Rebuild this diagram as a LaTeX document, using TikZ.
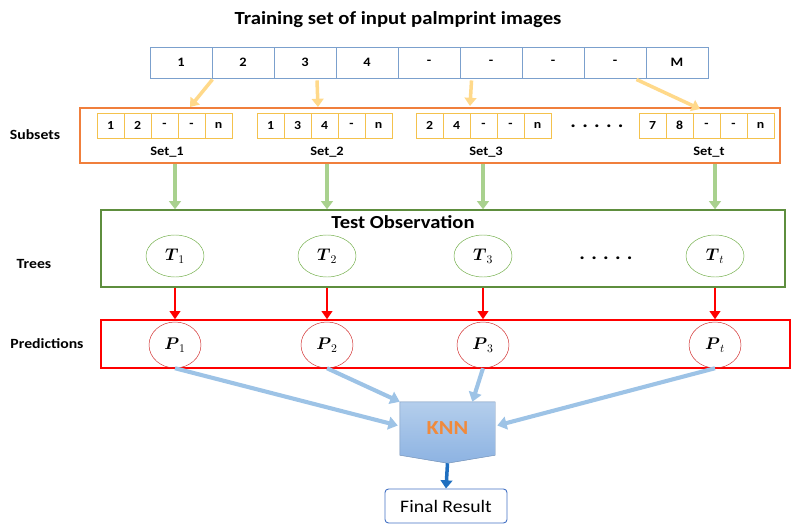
\documentclass[tikz,border=0pt]{standalone}
\usepackage{amsmath,amssymb}
\usepackage{fontspec}
\setmainfont{Carlito}[FakeStretch=1.12]
\usepackage{xcolor}
\usepackage{tikz}
\usetikzlibrary{shapes,arrows,positioning,calc,arrows.meta}

\definecolor{cellblue}{HTML}{7BA0CD}
\definecolor{cellyel}{HTML}{F4C24D}
\definecolor{boxorange}{HTML}{F07F3C}
\definecolor{boxgreen}{HTML}{5E8E3E}
\definecolor{treegreen}{HTML}{70AD47}
\definecolor{arrgreen}{HTML}{A9D18E}
\definecolor{arryel}{HTML}{FFD98A}
\definecolor{linblue}{HTML}{9DC3E6}
\definecolor{darkblue}{HTML}{1F6FC0}
\definecolor{frblue}{HTML}{4472C4}
\definecolor{knntop}{HTML}{B4CEEC}
\definecolor{knnbot}{HTML}{8DB3E2}
\definecolor{predred}{HTML}{D02828}
\definecolor{knnorange}{HTML}{F08A3C}

\tikzset{
    topcell/.style={draw=cellblue, thick, minimum width=1.86cm, minimum height=0.93cm, inner sep=0pt, font=\fontsize{11}{13}\selectfont\bfseries},
    subcell/.style={draw=cellyel, thick, minimum width=0.81cm, minimum height=0.75cm, inner sep=0pt, font=\fontsize{10.5}{12}\selectfont\bfseries},
    tree/.style={draw=treegreen, ellipse, minimum width=1.74cm, minimum height=1.26cm, inner sep=0pt, font=\fontsize{14}{16}\selectfont},
    pred/.style={draw=predred, ellipse, minimum width=1.56cm, minimum height=1.38cm, inner sep=0pt, font=\fontsize{14}{16}\selectfont},
    sidelabel/.style={font=\fontsize{12}{14}\selectfont\bfseries},
    dots/.style={font=\fontsize{16}{18}\selectfont\bfseries},
    yelarrow/.style={draw=arryel, line width=3pt, -{Triangle[length=7pt,width=10pt]}},
    grnarrow/.style={draw=arrgreen, line width=3pt, -{Triangle[length=7pt,width=10pt]}},
    redarrow/.style={draw=red, line width=2.5pt, -{Triangle[length=7pt,width=9pt]}},
    bluarrow/.style={draw=linblue, line width=3.5pt, -{Triangle[length=8pt,width=11pt]}}
}

\begin{document}
\begin{tikzpicture}[x=0.03cm, y=0.03cm]
    \useasboundingbox (0,0) rectangle (793,523);

    % Title
    \node (title) at (398,503) {\fontsize{15.8}{18}\selectfont\bfseries Training set of input palmprint images};

    % Input images
    \foreach \v [count=\i] in {1,2,3,4,-,-,-,-,M}
        \node[topcell] (top\i) at ({150+62*(\i-0.5)},460.5) {\v};

    % Subsets
    \node[draw=boxorange, very thick, minimum width=21cm, minimum height=1.65cm] (subsets) at (430,387.5) {};
    \node[sidelabel] (sublabel) at (35,388) {Subsets};
    \foreach \sx/\nm/\a/\b/\c/\d/\e [count=\k] in {97/1/1/2/-/-/n, 257/2/1/3/4/-/n, 416/3/2/4/-/-/n, 639/t/7/8/-/-/n} {
        \foreach \v [count=\j] in {\a,\b,\c,\d,\e}
            \node[subcell] (s\k-\j) at ({\sx+27*(\j-0.5)},397.5) {\v};
        \node[font=\fontsize{11}{13}\selectfont\bfseries] (set\k) at ({\sx+70},371) {Set\_\nm};
    }
    \node[dots] (subdots) at (597,397) {.\,\,.\,\,.\,\,.\,\,.};

    % Trees
    \node[draw=boxgreen, very thick, minimum width=20.52cm, minimum height=2.31cm] (trees) at (443,274.5) {};
    \node[font=\fontsize{15.7}{18}\selectfont\bfseries] (testobs) at (403,301) {Test Observation};
    \node[sidelabel] (treelabel) at (34,259) {Trees};
    \foreach \tx/\nm [count=\k] in {175/1, 327/2, 483/3, 715/t}
        \node[tree] (tree\k) at (\tx,267) {$\boldsymbol{T}_{\nm}$};
    \node[dots] (treedots) at (606,265) {.\,\,.\,\,.\,\,.\,\,.};

    % Predictions
    \node[draw=red, very thick, minimum width=20.67cm, minimum height=1.44cm] (preds) at (445.5,179) {};
    \node[sidelabel] (predlabel) at (47,179) {Predictions};
    \foreach \tx/\nm [count=\k] in {175/1, 327/2, 483/3, 715/t}
        \node[pred] (p\k) at (\tx,178) {$\boldsymbol{P}_{\nm}$};

    % KNN
    \node[minimum width=2.85cm, minimum height=1.59cm, inner sep=0pt] (knn) at (447.5,94.5) {};
    \draw[draw=knnbot!80!black, top color=knntop, bottom color=knnbot]
        (knn.north west) -- (knn.north east) -- (knn.south east) -- ($(knn.south)+(0,-8)$) -- (knn.south west) -- cycle;
    \node[font=\fontsize{17}{19}\selectfont\bfseries, text=knnorange] at (knn) {KNN};

    % Final result
    \node[draw=frblue, thick, rounded corners=3pt, minimum width=3.66cm, minimum height=1.02cm, font=\fontsize{15}{17}\selectfont] (final) at (446,17) {Final Result};

    % Arrows: images to subsets
    \coordinate (y1) at (190,416);
    \coordinate (y2) at (318,416);
    \coordinate (y3) at (470,417);
    \coordinate (y4) at (700,414);
    \draw[yelarrow] ($(top1.south east)+(0,-1)$) -- (y1);
    \draw[yelarrow] ($(top3.south)+(12,-2)$) -- (y2);
    \draw[yelarrow] ($(top6.south west)+(12,-2)$) -- (y3);
    \draw[yelarrow] ($(top8.south east)+(-10,-1)$) -- (y4);

    % Arrows: subsets to trees, trees to predictions
    \foreach \k in {1,...,4} {
        \draw[grnarrow] (tree\k |- subsets.south) -- (tree\k |- trees.north);
        \draw[redarrow] (tree\k |- trees.south) -- (p\k |- preds.north);
    }

    % Arrows: predictions to KNN
    \draw[bluarrow] (p1.south) -- ($(knn.west)+(-2,3)$);
    \draw[bluarrow] (p2.south) -- (knn.north west);
    \draw[bluarrow] (p3.south) -- ($(knn.north west)!0.76!(knn.north east)$);
    \draw[bluarrow] (p4.south) -- ($(knn.east)+(2,3)$);

    % KNN to final result
    \draw[draw=darkblue, line width=3pt, -{Triangle[length=7pt,width=10pt]}] ($(knn.south)+(0,-8)$) -- (final.north);
\end{tikzpicture}
\end{document}
